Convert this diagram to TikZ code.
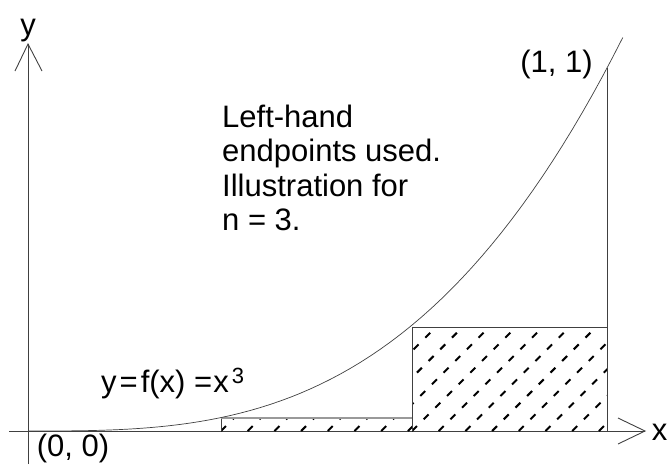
\documentclass[tikz,border=0pt]{standalone}
\usepackage{fontspec}
\setmainfont{Liberation Sans}
\begin{document}
\begin{tikzpicture}[x=1pt,y=-1pt,
  axisline/.style={draw=black!75, line width=0.9pt},
  thinline/.style={draw=black!75, line width=0.8pt},
  grayline/.style={draw=black!40, line width=1.4pt},
  hatchline/.style={draw=black, line width=2pt, dash pattern=on 7pt off 9.5pt},
  lbl/.style={font=\fontsize{31}{34.5}\selectfont, inner sep=0pt}]
\useasboundingbox (0,0) rectangle (668,464);
% axes
\coordinate (ybot) at (28,464);
\coordinate (ytip) at (28,44);
\coordinate (yl) at (15,71);
\coordinate (yr) at (42,71);
\coordinate (xstart) at (9,431);
\coordinate (xtip) at (645,431);
\coordinate (xu) at (618,418);
\coordinate (xd) at (618,444);
\draw[axisline] (ybot) -- (ytip);
\draw[axisline] (yl) -- (ytip) -- (yr);
\draw[axisline] (xstart) -- (xtip);
\draw[axisline] (xu) -- (xtip) -- (xd);
% rectangles
\coordinate (a0) at (221,431);
\coordinate (a1) at (221,418);
\coordinate (b0) at (412,431);
\coordinate (b1) at (412,418);
\coordinate (b2) at (412,327);
\coordinate (c0) at (607,431);
\coordinate (c2) at (607,327);
\coordinate (P) at (607,68);
% hatching
\begin{scope}
  \clip (a0) rectangle (b1);
  \foreach \k in {0,...,8}
    \draw[hatchline] ({221+26.7*\k},431) -- ++(40,-40);
\end{scope}
\begin{scope}
  \clip (b0) rectangle (c2);
  \foreach \k in {-4,...,8}
    \draw[hatchline] ({412+26.7*\k},431) -- ++(120,-120);
\end{scope}
\draw[thinline] (a0) -- (a1);
\draw[grayline] (a1) -- (b1);
\draw[thinline] (b0) -- (b2) -- (c2);
\draw[thinline] (c0) -- (P);
% curve
\draw[thinline, line width=0.7pt] plot[domain=0:1.0276, samples=60] ({28+579*\x},{431-363*\x*\x*\x});
% labels
\node[lbl, anchor=base] (ylab) at (28,35) {y};
\node[lbl, anchor=base] (xlab) at (659.5,440) {x};
\node[lbl, anchor=base] (p11) at (556.5,72) {(1, 1)};
\node[lbl, anchor=base] (p00) at (73,456) {(0, 0)};
\node[lbl, anchor=base west] (fn) at (101,392) {y\hspace{3pt}=\hspace{3pt}f(x) =\hspace{1pt}x\hspace{3pt}\raisebox{9pt}{\fontsize{22}{22}\selectfont 3}};
\node[lbl, anchor=north west, align=left] (note) at (222,104.5) {Left-hand\\endpoints used.\\Illustration for\\n = 3.};
\end{tikzpicture}
\end{document}
